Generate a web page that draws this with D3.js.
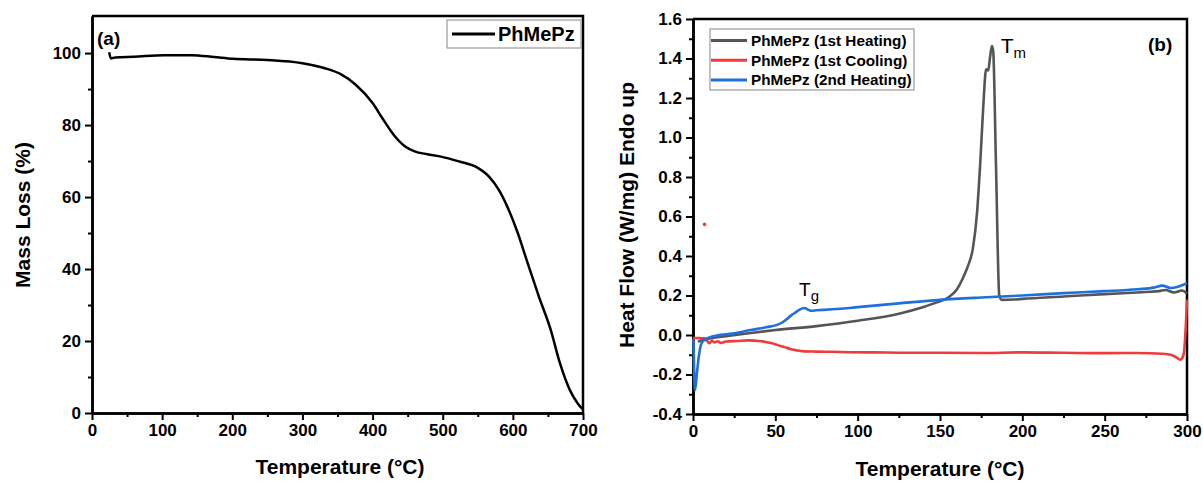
<!doctype html>
<html>
<head>
<script src="https://cdnjs.cloudflare.com/ajax/libs/d3/7.8.5/d3.min.js"></script>
<style>
body { margin: 0; background: #fff; }
text { font-family: "Liberation Sans", Arial, sans-serif; font-weight: bold; fill: #000; }
</style>
</head>
<body>
<svg width="1203" height="484"></svg>
<script>
// (a) TGA
var tgaTemp = [24.5, 27, 33, 60, 103, 142, 174, 201, 250, 300, 332, 354, 376, 400, 414, 430, 446, 460, 478, 496, 523, 550, 566, 580, 594, 607, 621, 637, 654, 667, 681, 692, 698, 700];
var tgaMass = [100.2, 98.5, 98.8, 99.0, 99.4, 99.4, 98.9, 98.4, 98.1, 97.2, 95.8, 94.2, 91.2, 86.1, 81.9, 77.3, 74.1, 72.7, 71.9, 71.3, 69.9, 68.1, 65.7, 62.0, 56.5, 50.0, 41.7, 32.4, 23.1, 13.9, 6.5, 2.8, 1.4, 1.1];

// (b) DSC
var heat1Temp = [3, 5, 10, 20, 35, 50, 75, 100, 125, 140, 148, 155, 160, 164, 167, 170, 172.5, 174.5, 176.3, 178, 179.3, 180.3, 181.5, 182.3, 184, 186, 187.5, 195, 200, 225, 250, 275, 283, 287, 292, 297, 300];
var heat1Flow = [-0.035, -0.028, -0.018, -0.006, 0.01, 0.025, 0.045, 0.072, 0.108, 0.142, 0.165, 0.19, 0.228, 0.29, 0.35, 0.44, 0.62, 0.88, 1.16, 1.345, 1.34, 1.4, 1.463, 1.44, 0.86, 0.2, 0.178, 0.18, 0.183, 0.195, 0.207, 0.218, 0.222, 0.228, 0.215, 0.225, 0.21];

var coolTemp = [0, 4, 7, 8.5, 10, 11.5, 13, 15, 17, 20, 27, 34, 40, 44, 48, 51, 55, 59.5, 63, 67.5, 75, 84.6, 95, 110, 130, 150, 175, 200, 225, 250, 270, 285, 290, 293, 296, 297.5, 298.5, 299.3, 300];
var coolFlow = [-0.015, -0.016, -0.017, -0.03, -0.042, -0.028, -0.038, -0.032, -0.04, -0.033, -0.03, -0.027, -0.03, -0.035, -0.042, -0.05, -0.06, -0.072, -0.078, -0.083, -0.084, -0.085, -0.087, -0.088, -0.09, -0.09, -0.091, -0.088, -0.09, -0.092, -0.091, -0.095, -0.1, -0.11, -0.125, -0.11, -0.06, 0.05, 0.18];
var coolDot = [7, 0.56];

var heat2Temp = [0.3, 1.2, 2.3, 3.5, 5, 7, 10, 15, 24, 35, 45, 50.5, 54, 56.6, 59.5, 62.6, 65, 67.6, 69.5, 71.6, 75, 84.6, 95, 100, 125, 150, 175, 200, 225, 250, 270, 280, 285, 290, 294, 297, 300];
var heat2Flow = [-0.02, -0.28, -0.2, -0.11, -0.045, -0.025, -0.012, -0.002, 0.007, 0.025, 0.04, 0.05, 0.062, 0.078, 0.098, 0.116, 0.13, 0.137, 0.13, 0.123, 0.125, 0.13, 0.137, 0.141, 0.16, 0.178, 0.19, 0.2, 0.212, 0.222, 0.232, 0.24, 0.25, 0.238, 0.243, 0.252, 0.262];

var dscNames = ["PhMePz (1st Heating)", "PhMePz (1st Cooling)", "PhMePz (2nd Heating)"];
var dscColors = ["#555555", "#ee3b3b", "#1f6fde"];

var tgaXTicks = [0, 100, 200, 300, 400, 500, 600, 700];
var tgaYTicks = [0, 20, 40, 60, 80, 100];
var dscXTicks = [0, 50, 100, 150, 200, 250, 300];
var dscYTicks = [-0.4, -0.2, 0.0, 0.2, 0.4, 0.6, 0.8, 1.0, 1.2, 1.4, 1.6];

var svg = d3.select("svg");

function zipPts(xs, ys) { return xs.map((v, i) => [v, ys[i]]); }

function drawFrame(g, x, y, xMaj, xMin, yMaj, yMin, yFmt) {
  var w = x.range()[1], h = y.range()[0];
  g.append("g").attr("transform", "translate(0," + h + ")")
    .call(d3.axisBottom(x).tickValues(xMin).tickSize(4).tickSizeOuter(0).tickFormat(""));
  g.append("g").call(d3.axisLeft(y).tickValues(yMin).tickSize(4).tickSizeOuter(0).tickFormat(""));
  g.append("g").attr("class", "ax").attr("transform", "translate(0," + h + ")")
    .call(d3.axisBottom(x).tickValues(xMaj).tickSize(7).tickPadding(4).tickSizeOuter(0).tickFormat(d3.format("d")));
  g.append("g").attr("class", "ax")
    .call(d3.axisLeft(y).tickValues(yMaj).tickSize(7).tickPadding(4).tickSizeOuter(0).tickFormat(yFmt));
  g.selectAll(".tick line").attr("stroke-width", 2);
  g.selectAll(".domain").attr("stroke-width", 2.5);
  g.selectAll(".ax text").style("font-size", "17px").style("font-weight", "bold").attr("fill", "#000");
  g.append("path").attr("fill", "none").attr("stroke", "#000").attr("stroke-width", 2.5)
    .attr("d", "M0,0H" + w + "V" + h);
}

// ---- panel (a)
var ga = svg.append("g").attr("transform", "translate(92,16)");
var xa = d3.scaleLinear().domain([0, 700]).range([0, 491]);
var ya = d3.scaleLinear().domain([0, 110.3]).range([397, 0]);
drawFrame(ga, xa, ya, tgaXTicks, d3.range(50, 700, 100), tgaYTicks, d3.range(10, 110, 20), d3.format("d"));

ga.append("path")
  .datum(zipPts(tgaTemp, tgaMass))
  .attr("fill", "none").attr("stroke", "#000").attr("stroke-width", 2.5)
  .attr("d", d3.line().x(d => xa(d[0])).y(d => ya(d[1])).curve(d3.curveMonotoneX));

ga.append("text").attr("x", 5).attr("y", 29).style("font-size", "19px").text("(a)");
var lga = ga.append("g").attr("transform", "translate(355,4)");
lga.append("rect").attr("width", 134).attr("height", 28).attr("fill", "#fff").attr("stroke", "#999").attr("stroke-width", 1.2);
lga.append("line").attr("x1", 5).attr("x2", 48).attr("y1", 14).attr("y2", 14).attr("stroke", "#000").attr("stroke-width", 3);
lga.append("text").attr("x", 51).attr("y", 21).style("font-size", "20px").text("PhMePz");

svg.append("text").attr("x", 340).attr("y", 474).attr("text-anchor", "middle").style("font-size", "21px").text("Temperature (°C)");
svg.append("text").attr("transform", "translate(30,215) rotate(-90)").attr("text-anchor", "middle").style("font-size", "21px").text("Mass Loss (%)");

// ---- panel (b)
var gb = svg.append("g").attr("transform", "translate(693,19)");
var xb = d3.scaleLinear().domain([0, 300]).range([0, 494]);
var yb = d3.scaleLinear().domain([-0.4, 1.6]).range([395, 0]);
drawFrame(gb, xb, yb, dscXTicks, d3.range(25, 300, 50), dscYTicks, d3.range(-0.3, 1.6, 0.2), d => d.toFixed(1));

var lineB = d3.line().x(d => xb(d[0])).y(d => yb(d[1])).curve(d3.curveMonotoneX);
var dscSeries = [zipPts(heat1Temp, heat1Flow), zipPts(coolTemp, coolFlow), zipPts(heat2Temp, heat2Flow)];
[1, 0, 2].forEach(i => {
  gb.append("path").datum(dscSeries[i])
    .attr("fill", "none").attr("stroke", dscColors[i]).attr("stroke-width", 2.6)
    .attr("stroke-linejoin", "round").attr("d", lineB);
});
gb.append("circle").attr("cx", xb(coolDot[0])).attr("cy", yb(coolDot[1])).attr("r", 1.8).attr("fill", dscColors[1]);

var tm = gb.append("text").attr("x", xb(186.9)).attr("y", yb(1.426)).style("font-size", "21px").style("font-weight", "normal");
tm.append("tspan").text("T");
tm.append("tspan").attr("dy", 5).style("font-size", "15px").text("m");
var tg = gb.append("text").attr("x", xb(64.4)).attr("y", yb(0.2)).style("font-size", "19px").style("font-weight", "normal");
tg.append("tspan").text("T");
tg.append("tspan").attr("dy", 5).style("font-size", "15px").text("g");

gb.append("text").attr("x", 455).attr("y", 32).style("font-size", "19px").text("(b)");

var lgb = gb.append("g").attr("transform", "translate(17,10)");
lgb.append("rect").attr("width", 204).attr("height", 61).attr("fill", "#fff").attr("stroke", "#999").attr("stroke-width", 1.2);
dscNames.forEach((n, i) => {
  var yy = 11.5 + i * 19.7;
  lgb.append("line").attr("x1", 1).attr("x2", 37).attr("y1", yy).attr("y2", yy).attr("stroke", dscColors[i]).attr("stroke-width", 3);
  lgb.append("text").attr("x", 41).attr("y", yy + 5.5).style("font-size", "15.3px").text(n);
});

svg.append("text").attr("x", 940).attr("y", 476).attr("text-anchor", "middle").style("font-size", "21px").text("Temperature (°C)");
svg.append("text").attr("transform", "translate(634,215) rotate(-90)").attr("text-anchor", "middle").style("font-size", "21px").text("Heat Flow (W/mg) Endo up");
</script>
</body>
</html>
